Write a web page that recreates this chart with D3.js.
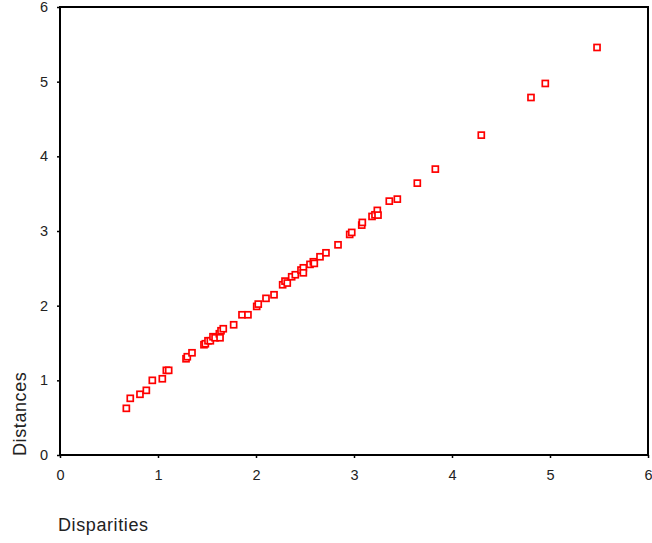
<!DOCTYPE html>
<html>
<head>
<meta charset="utf-8">
<script src="https://cdn.jsdelivr.net/npm/d3@7"></script>
<style>
  body { margin: 0; background: #fff; }
  svg { display: block; font-family: "Liberation Sans", Arial, sans-serif; }
</style>
</head>
<body>
<script>
const disparities = [
  0.677, 0.717, 0.816, 0.881, 0.942, 1.044, 1.085, 1.109, 1.286, 1.299,
  1.347, 1.469, 1.483, 1.510, 1.534, 1.561, 1.582, 1.626, 1.633, 1.643,
  1.666, 1.772, 1.857, 1.918, 2.007, 2.023, 2.102, 2.184, 2.272, 2.296,
  2.319, 2.364, 2.401, 2.459, 2.483, 2.483, 2.551, 2.585, 2.595, 2.653,
  2.714, 2.837, 2.956, 2.977, 3.079, 3.085, 3.184, 3.214, 3.238, 3.245,
  3.360, 3.442, 3.646, 3.830, 4.299, 4.806, 4.952, 5.480
];
const distances = [
  0.625, 0.759, 0.813, 0.866, 1.000, 1.021, 1.134, 1.134, 1.289, 1.316,
  1.369, 1.477, 1.490, 1.530, 1.530, 1.584, 1.570, 1.624, 1.570, 1.664,
  1.691, 1.744, 1.878, 1.878, 1.990, 2.021, 2.098, 2.146, 2.280, 2.329,
  2.303, 2.387, 2.414, 2.477, 2.507, 2.440, 2.553, 2.588, 2.566, 2.655,
  2.708, 2.815, 2.954, 2.981, 3.079, 3.115, 3.195, 3.217, 3.276, 3.213,
  3.400, 3.427, 3.641, 3.829, 4.284, 4.788, 4.976, 5.458
];
const xTicks = [0, 1, 2, 3, 4, 5, 6];
const yTicks = [0, 1, 2, 3, 4, 5, 6];

const width = 652;
const height = 543;
const plotLeft = 60, plotRight = 648, plotTop = 7, plotBottom = 455;

const svg = d3.select("body")
  .append("svg")
  .attr("width", width)
  .attr("height", height);

const xScale = d3.scaleLinear().domain([0, 6]).range([plotLeft, plotRight]);
const yScale = d3.scaleLinear().domain([0, 6]).range([plotBottom, plotTop]);

const xAxis = d3.axisBottom(xScale).tickValues(xTicks)
  .tickFormat(d3.format("d")).tickSize(3).tickPadding(12);
const yAxis = d3.axisLeft(yScale).tickValues(yTicks)
  .tickFormat(d3.format("d")).tickSize(3).tickPadding(9);

const gx = svg.append("g")
  .attr("transform", `translate(0, ${plotBottom})`)
  .call(xAxis);
const gy = svg.append("g")
  .attr("transform", `translate(${plotLeft}, 0)`)
  .call(yAxis);

[gx, gy].forEach((g) => {
  g.select(".domain").remove();
  g.selectAll(".tick line").attr("stroke", "#000").attr("stroke-width", 1.5);
  g.selectAll(".tick text")
    .attr("fill", "#222")
    .style("font-size", "14.5px")
    .style("font-family", "'Liberation Sans', Arial, sans-serif");
});

// frame
svg.append("rect")
  .attr("x", plotLeft)
  .attr("y", plotTop)
  .attr("width", plotRight - plotLeft)
  .attr("height", plotBottom - plotTop)
  .attr("fill", "none")
  .attr("stroke", "#000")
  .attr("stroke-width", 2);

const points = disparities.map((d, i) => [d, distances[i]]);

svg.selectAll("rect.pt")
  .data(points)
  .enter()
  .append("rect")
  .attr("class", "pt")
  .attr("x", (d) => xScale(d[0]) - 3)
  .attr("y", (d) => yScale(d[1]) - 3)
  .attr("width", 6)
  .attr("height", 6)
  .attr("fill", "#fff")
  .attr("stroke", "#ff0000")
  .attr("stroke-width", 1.7);

svg.append("text")
  .attr("x", 58)
  .attr("y", 531)
  .style("font-size", "18px")
  .style("letter-spacing", "0.6px")
  .attr("fill", "#222")
  .text("Disparities");

svg.append("text")
  .attr("transform", "translate(26, 456) rotate(-90)")
  .style("font-size", "18px")
  .style("letter-spacing", "0.6px")
  .attr("fill", "#222")
  .text("Distances");
</script>
</body>
</html>
